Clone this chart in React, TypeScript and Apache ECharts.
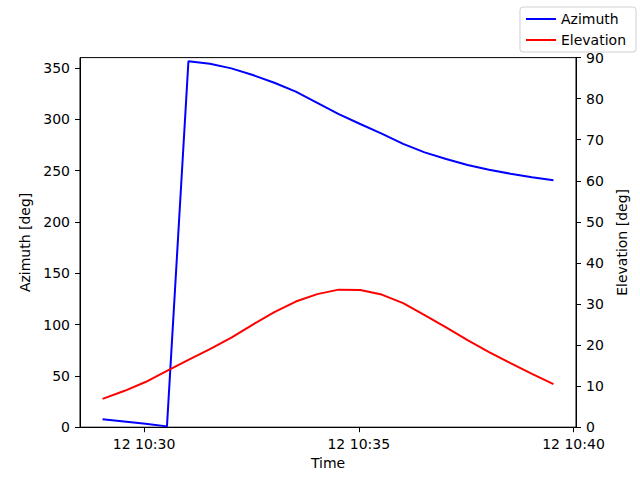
import { useEffect, useRef } from "react";
import * as echarts from "echarts";

// sample times (30 s steps), HH:MM:SS on day 12
const times = [
  "10:29:02", "10:29:32", "10:30:02", "10:30:32", "10:31:02", "10:31:32",
  "10:32:02", "10:32:32", "10:33:02", "10:33:32", "10:34:02", "10:34:32",
  "10:35:02", "10:35:32", "10:36:02", "10:36:32", "10:37:02", "10:37:32",
  "10:38:02", "10:38:32", "10:39:02", "10:39:32",
];

const azimuth = [
  7.7, 5.5, 3.3, 0.8, 356.5, 354, 349.5, 343, 335.5, 326.8, 316, 305,
  295.3, 286, 276, 267.7, 261.2, 255.4, 250.8, 246.9, 243.4, 240.5,
];

const elevation = [
  6.9, 8.8, 11.0, 13.7, 16.4, 19.0, 21.8, 25.0, 28.0, 30.6, 32.4, 33.5,
  33.4, 32.3, 30.2, 27.3, 24.3, 21.2, 18.3, 15.6, 13.0, 10.5,
];

const xTickTimes = ["10:30:00", "10:35:00", "10:40:00"];
const azTicks = [0, 50, 100, 150, 200, 250, 300, 350];

const DAY = 12;

function toMs(hms: string): number {
  const [h, m, s] = hms.split(":").map(Number);
  return Date.UTC(2024, 0, DAY, h, m, s);
}

function fmt(ms: number): string {
  const d = new Date(ms);
  const hh = String(d.getUTCHours()).padStart(2, "0");
  const mm = String(d.getUTCMinutes()).padStart(2, "0");
  return `${d.getUTCDate()} ${hh}:${mm}`;
}

const FONT = "'DejaVu Sans', sans-serif";
// plain line icon for the legend (the two moveTo points fix the box size)
const LINE_ICON = "path://M0,0M30,14M0,6L30,6L30,8L0,8Z";

export default function App() {
  const chartRef = useRef<HTMLDivElement>(null);

  useEffect(() => {
    if (!chartRef.current) return;
    const chart = echarts.init(chartRef.current, undefined, { renderer: "svg" });

    const xs = times.map(toMs);
    // matplotlib-style 5% margins on the time axis
    const span = xs[xs.length - 1] - xs[0];
    const xMin = xs[0] - span * 0.05;
    const xMax = xs[xs.length - 1] + span * 0.05;
    const xTicks = xTickTimes.map(toMs);

    const tickStyle = { show: true, inside: false, length: 5, lineStyle: { color: "#000", width: 1 } };
    const labelStyle = { color: "#000", fontSize: 14, fontFamily: FONT, margin: 10 };

    chart.setOption({
      animation: false,
      textStyle: { fontFamily: FONT },
      grid: {
        left: 80,
        right: 64,
        top: 57.6,
        bottom: 52.8,
        show: true,
        borderColor: "#000",
        borderWidth: 1,
      },
      legend: {
        top: 7,
        right: 4,
        orient: "vertical",
        itemWidth: 30,
        itemHeight: 14,
        itemGap: 7,
        padding: [5, 10, 5, 6],
        borderColor: "#d0d0d0",
        borderWidth: 1,
        borderRadius: 3,
        backgroundColor: "rgba(255,255,255,0.8)",
        textStyle: { color: "#000", fontSize: 14, fontFamily: FONT },
        data: [
          { name: "Azimuth", icon: LINE_ICON },
          { name: "Elevation", icon: LINE_ICON },
        ],
      },
      xAxis: {
        type: "value",
        min: xMin,
        max: xMax,
        name: "Time",
        nameLocation: "middle",
        nameGap: 27,
        nameTextStyle: { color: "#000", fontSize: 14, fontFamily: FONT },
        axisLine: { show: true, lineStyle: { color: "#000", width: 1 } },
        axisTick: { ...tickStyle, customValues: xTicks },
        axisLabel: { ...labelStyle, customValues: xTicks, formatter: (v: number) => fmt(v) },
        splitLine: { show: false },
      },
      yAxis: [
        {
          type: "value",
          min: 0,
          max: 360,
          position: "left",
          name: "Azimuth [deg]",
          nameLocation: "middle",
          nameGap: 40,
          nameTextStyle: { color: "#000", fontSize: 14, fontFamily: FONT },
          axisLine: { show: true, lineStyle: { color: "#000", width: 1 } },
          axisTick: { ...tickStyle, customValues: azTicks },
          axisLabel: { ...labelStyle, customValues: azTicks },
          splitLine: { show: false },
        },
        {
          type: "value",
          min: 0,
          max: 90,
          interval: 10,
          position: "right",
          name: "Elevation [deg]",
          nameLocation: "middle",
          nameGap: 25,
          nameRotate: 90,
          nameTextStyle: { color: "#000", fontSize: 14, fontFamily: FONT },
          axisLine: { show: true, lineStyle: { color: "#000", width: 1 } },
          axisTick: tickStyle,
          axisLabel: labelStyle,
          splitLine: { show: false },
        },
      ],
      series: [
        {
          name: "Azimuth",
          type: "line",
          yAxisIndex: 0,
          symbol: "none",
          color: "#0000ff",
          lineStyle: { color: "#0000ff", width: 2 },
          data: xs.map((x, i) => [x, azimuth[i]]),
        },
        {
          name: "Elevation",
          type: "line",
          yAxisIndex: 1,
          symbol: "none",
          color: "#ff0000",
          lineStyle: { color: "#ff0000", width: 2 },
          data: xs.map((x, i) => [x, elevation[i]]),
        },
      ],
    });

    return () => {
      chart.dispose();
    };
  }, []);

  return (
    <div
      ref={chartRef}
      style={{ position: "absolute", left: 0, top: 0, width: 640, height: 480, background: "#fff" }}
    />
  );
}
